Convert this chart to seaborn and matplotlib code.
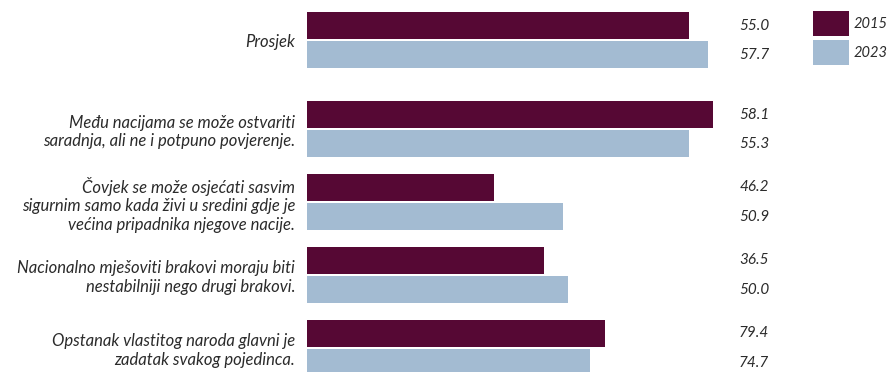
import pandas as pd
import matplotlib.pyplot as plt
import seaborn as sns

# Data
statements = [
    "Prosjek",
    "Među nacijama se može ostvariti\nsaradnja, ali ne i potpuno povjerenje.",
    "Čovjek se može osjećati sasvim\nsigurnim samo kada živi u sredini gdje je\nvećina pripadnika njegove nacije.",
    "Nacionalno mješoviti brakovi moraju biti\nnestabilniji nego drugi brakovi.",
    "Opstanak vlastitog naroda glavni je\nzadatak svakog pojedinca.",
]
years = ["2015", "2023"]
# bar lengths as drawn in the chart
bars_2015 = [55.0, 58.4, 26.9, 34.1, 42.9]
bars_2023 = [57.7, 55.0, 36.8, 37.6, 40.7]
# printed values
labels_2015 = ["55.0", "58.1", "46.2", "36.5", "79.4"]
labels_2023 = ["57.7", "55.3", "50.9", "50.0", "74.7"]

colors = ["#560834", "#a3bbd2"]
text_color = "#2b2b2b"

sns.set_theme(style="white")
plt.rcParams["font.family"] = ["Lato", "DejaVu Sans"]

# Prosjek a bit separated from the rest
pos = [0] + [i + 0.22 for i in range(1, len(statements))]

df = pd.DataFrame({
    "pos": pos * 2,
    "value": bars_2015 + bars_2023,
    "year": [years[0]] * len(pos) + [years[1]] * len(pos),
})

fig = plt.figure(figsize=(8.89, 3.72), dpi=100)
ax = fig.add_axes([307 / 889, 0, 582 / 889, 1])
sns.barplot(data=df, x="value", y="pos", hue="year", orient="h", native_scale=True,
            palette=colors, saturation=1, gap=0.08, width=0.8, linewidth=0, ax=ax)

ax.set_xlim(0, 582 / 6.95)
ax.set_ylim(4.55, -0.55)
ax.set_xticks([])
ax.set_yticks(pos)
ax.set_yticklabels(statements, fontsize=12, fontstyle="italic", color=text_color,
                   linespacing=1.2)
ax.tick_params(axis="y", length=0, pad=8.5)
ax.set_xlabel("")
ax.set_ylabel("")
sns.despine(ax=ax, left=True, bottom=True)

# values on the right
for p, l1, l2 in zip(pos, labels_2015, labels_2023):
    ax.text(66.5, p - 0.2, l1, ha="right", va="center", fontsize=11,
            fontstyle="italic", color=text_color)
    ax.text(66.5, p + 0.2, l2, ha="right", va="center", fontsize=11,
            fontstyle="italic", color=text_color)

handles, labs = ax.get_legend_handles_labels()
ax.legend(handles, labs, loc="upper left", bbox_to_anchor=(506 / 582, 1 - 11 / 372),
          frameon=False, handlelength=2.5, handleheight=2.3,
          labelspacing=0.25, handletextpad=0.25, borderpad=0, borderaxespad=0,
          prop={"style": "italic", "size": 10.5})
for t in ax.get_legend().get_texts():
    t.set_color(text_color)

plt.savefig("out.png", dpi=100)
